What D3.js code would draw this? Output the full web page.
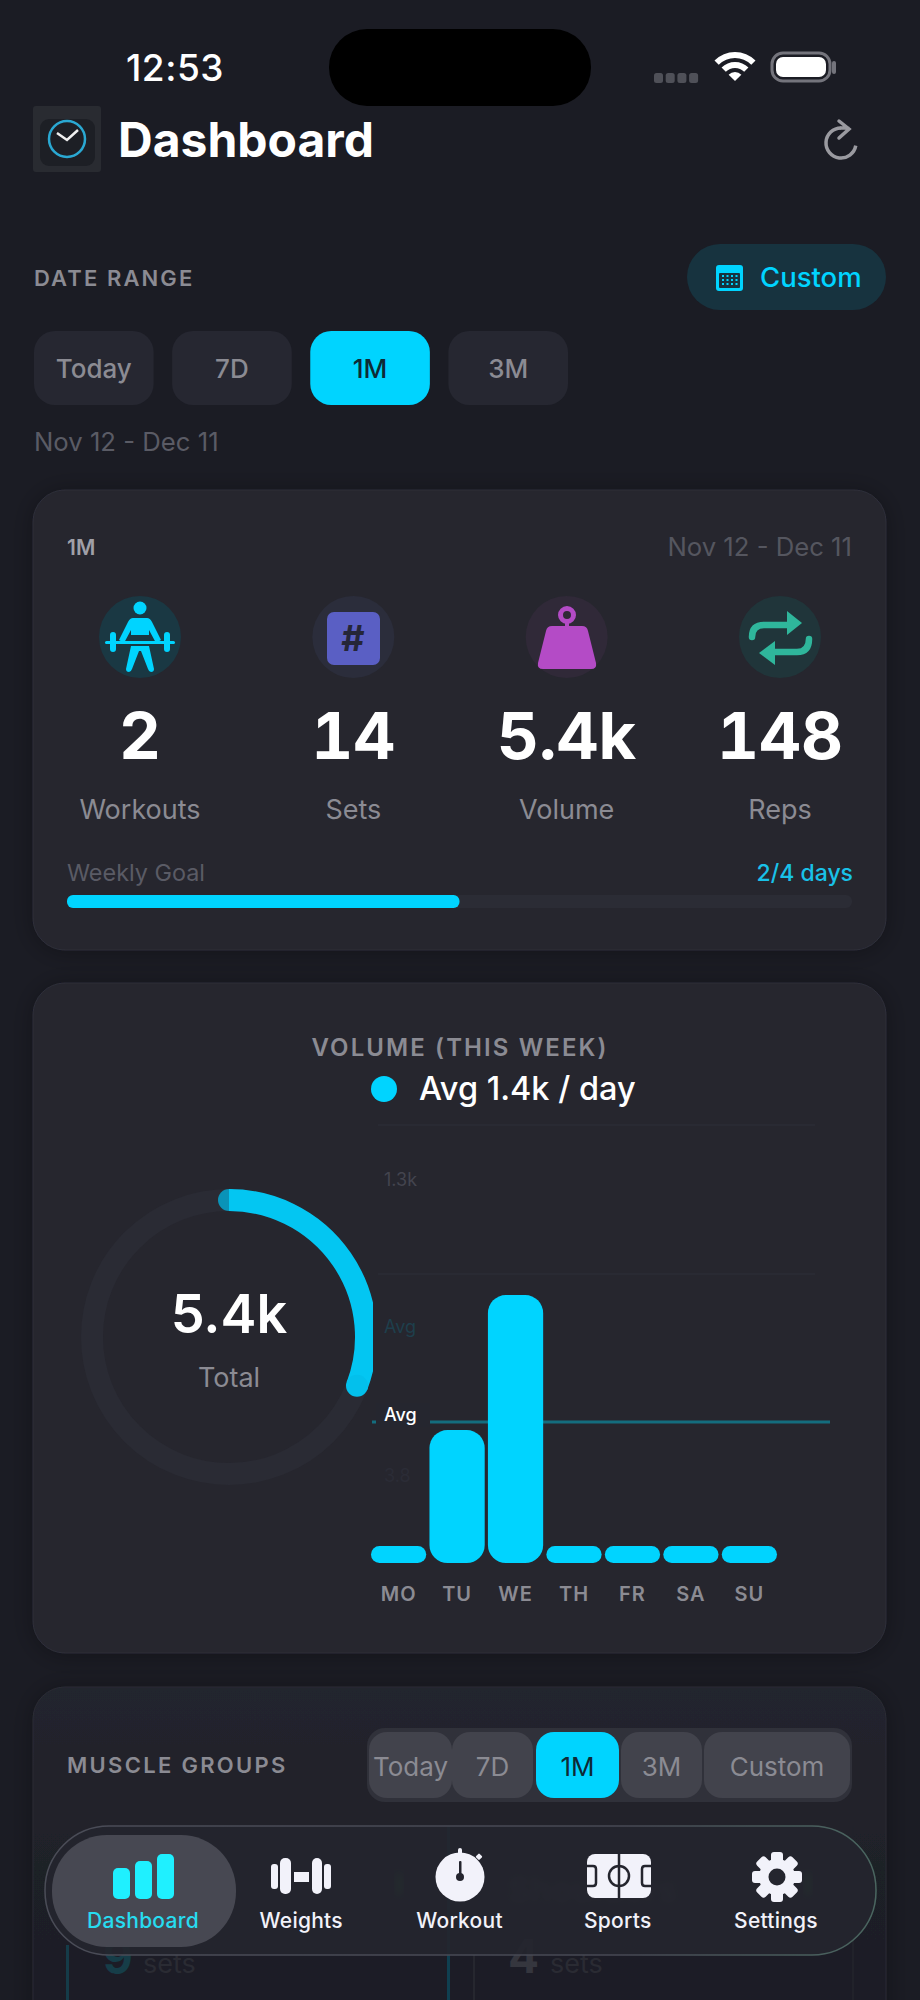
<!DOCTYPE html>
<html>
<head>
<meta charset="utf-8">
<script src="https://d3js.org/d3.v7.min.js"></script>
<style>
  html, body { margin: 0; padding: 0; background: #1b1c24; }
  svg { display: block; }
  text { font-family: Inter, "Noto Sans", sans-serif; }
</style>
</head>
<body>
<script>
// chart data
var days = ["MO", "TU", "WE", "TH", "FR", "SA", "SU"];
var dayVolume = [0, 1320, 2660, 0, 0, 0, 0];
var avgVolume = 1400;
var gridValues = [2870, 4350];
var yTickValues = [3810, 2350, 870];
var yTickLabels = ["1.3k", "Avg", "3.8"];
var ringShare = 0.308;
var weeklyGoalDone = 2;
var weeklyGoalTotal = 4;

// card contents
var rangeButtons = ["Today", "7D", "1M", "3M"];
var muscleButtons = ["Today", "7D", "1M", "3M", "Custom"];
var statValues = ["2", "14", "5.4k", "148"];
var statLabels = ["Workouts", "Sets", "Volume", "Reps"];
var navLabels = ["Dashboard", "Weights", "Workout", "Sports", "Settings"];

var CYAN = "#00d4ff", CARD = "#25262f", GREY = "#8b8b93", DIM = "#5a5b65", ICON = "#f2f2fa";

var svg = d3.select("body").append("svg").attr("width", 920).attr("height", 2000);
var defs = svg.append("defs");

var shadow = defs.append("filter").attr("id", "shadow")
  .attr("x", "-10%").attr("y", "-10%").attr("width", "120%").attr("height", "120%");
shadow.append("feDropShadow").attr("dx", 0).attr("dy", 2).attr("stdDeviation", 12)
  .attr("flood-color", "#000").attr("flood-opacity", 0.3);
defs.append("filter").attr("id", "blur3").append("feGaussianBlur").attr("stdDeviation", 3);

var fade = defs.append("linearGradient").attr("id", "card3").attr("x1", 0).attr("x2", 0).attr("y1", 0).attr("y2", 1);
fade.append("stop").attr("offset", "0%").attr("stop-color", "#24252e");
fade.append("stop").attr("offset", "45%").attr("stop-color", "#1f2028");
fade.append("stop").attr("offset", "100%").attr("stop-color", "#1c1d25");

var navEdge = defs.append("linearGradient").attr("id", "navEdge").attr("x1", 0).attr("x2", 1).attr("y1", 0).attr("y2", 0);
navEdge.append("stop").attr("offset", "0%").attr("stop-color", "#4a4c57");
navEdge.append("stop").attr("offset", "70%").attr("stop-color", "#464853");
navEdge.append("stop").attr("offset", "100%").attr("stop-color", "#4a6660");

defs.append("clipPath").attr("id", "ringClip").append("rect")
  .attr("x", 40).attr("y", 1170).attr("width", 333).attr("height", 340);

function label(parent, x, y, str, size, color, weight, anchor, spacing) {
  return parent.append("text")
    .attr("x", x).attr("y", y)
    .attr("font-size", size)
    .attr("font-weight", weight || 400)
    .attr("fill", color)
    .attr("text-anchor", anchor || "start")
    .attr("letter-spacing", spacing || 0)
    .text(str);
}

function box(parent, x, y, w, h, r, color) {
  return parent.append("rect")
    .attr("x", x).attr("y", y).attr("width", w).attr("height", h)
    .attr("rx", r).attr("fill", color);
}

// status bar
label(svg, 126, 81, "12:53", 37, "#fff", 500, "start", 0.5);
box(svg, 329, 29, 262, 77, 38, "#000");
d3.range(4).forEach(function(i) {
  box(svg, 654 + i * 11.7, 73, 9, 10, 2.5, "#4f5058");
});
var wifi = svg.append("g").attr("transform", "translate(735,81)").attr("fill", "#fff");
[[23, 29], [13, 19], [0, 9]].forEach(function(r) {
  wifi.append("path").attr("d", d3.arc()({
    innerRadius: r[0], outerRadius: r[1], startAngle: -Math.PI / 4, endAngle: Math.PI / 4
  }));
});
box(svg, 772, 53, 58, 28, 11, "none").attr("stroke", "#74747c").attr("stroke-width", 3);
box(svg, 776, 57, 50, 20, 7, "#fff");
box(svg, 832, 61, 4, 13, 2, "#74747c");

// header
box(svg, 33, 106, 68, 66, 3, "#292b31");
box(svg, 40, 119, 55, 47, 9, "#1d1f25");
svg.append("circle").attr("cx", 67).attr("cy", 139).attr("r", 18)
  .attr("fill", "none").attr("stroke", "#2aa8d2").attr("stroke-width", 2.5);
svg.append("path").attr("d", "M57 133L67 140L78 130")
  .attr("fill", "none").attr("stroke", "#f0f0f0").attr("stroke-width", 2.5);
label(svg, 118, 157, "Dashboard", 48, "#fff", 700);

var refresh = svg.append("g").attr("transform", "translate(841,143)")
  .attr("fill", "none").attr("stroke", "#9a9aa0").attr("stroke-width", 3.5).attr("stroke-linecap", "round");
refresh.append("path").attr("d", d3.arc()({
  innerRadius: 15, outerRadius: 15, startAngle: 1.75, endAngle: 2 * Math.PI
}));
refresh.append("path").attr("d", "M0 -15H7M-2 -22L8 -14L-2 -5");

// date range row
label(svg, 34, 286, "DATE RANGE", 22, GREY, 600, "start", 2.1);
box(svg, 687, 244, 199, 66, 33, "#17333f");
box(svg, 716, 265, 27, 26, 3, CYAN);
box(svg, 719, 273, 21, 15, 1, "#17333f");
d3.range(12).forEach(function(i) {
  box(svg, 722 + (i % 4) * 4.5, 275 + Math.floor(i / 4) * 4, 2, 2, 0, CYAN);
});
label(svg, 760, 287, "Custom", 27.5, CYAN, 500);

var rangeX = d3.scaleBand().domain(rangeButtons).range([34, 568]).paddingInner(0.134);
rangeButtons.forEach(function(d) {
  var on = d === "1M";
  box(svg, rangeX(d), 331, rangeX.bandwidth(), 74, 21, on ? CYAN : "#262731");
  label(svg, rangeX(d) + rangeX.bandwidth() / 2, 378, d, 26, on ? "#0e2a35" : GREY, 500, "middle");
});
label(svg, 34, 451, "Nov 12 - Dec 11", 25.7, DIM);

// summary card
box(svg, 33, 490, 853, 460, 32, CARD).attr("stroke", "#2e2f39").attr("filter", "url(#shadow)");
label(svg, 67, 555, "1M", 21, "#a0a0a8", 600);
label(svg, 852, 556, "Nov 12 - Dec 11", 25.7, "#55565f", 400, "end");

var statX = d3.scalePoint().domain(statLabels).range([140, 780]);
var iconFill = ["#1a3843", "#2b2d3b", "#302938", "#20353a"];
statLabels.forEach(function(d, i) {
  svg.append("circle").attr("cx", statX(d)).attr("cy", 637).attr("r", 41).attr("fill", iconFill[i]);
  label(svg, statX(d), 759, statValues[i], 65, "#fff", 700, "middle")
    .style("font-feature-settings", "'tnum'");
  label(svg, statX(d), 819, d, 27, GREY, 400, "middle");
});

// lifter
var lifter = svg.append("g").attr("fill", CYAN);
lifter.append("circle").attr("cx", 140).attr("cy", 608).attr("r", 6.5);
lifter.append("path").attr("d", "M133 618H147Q150 618 152 622L161 640L156 643L149 630V635H131V630L124 643L119 640L128 622Q130 618 133 618Z");
lifter.append("path").attr("d", "M131 646H149L154 669Q154 672 151 672Q149 672 148 669L141 651H139L132 669Q131 672 129 672Q126 672 126 669Z");
box(lifter, 105, 641, 70, 3, 1.5, CYAN);
box(lifter, 110, 632, 6, 20, 3, CYAN);
box(lifter, 164, 632, 6, 20, 3, CYAN);

// sets tile
box(svg, 327, 612, 53, 53, 7, "#5a5fc4");
label(svg, 353, 651, "#", 36, "#252638", 700, "middle");

// kettlebell
svg.append("circle").attr("cx", 567).attr("cy", 615).attr("r", 6.5)
  .attr("fill", "none").attr("stroke", "#b44bc6").attr("stroke-width", 5);
svg.append("path").attr("fill", "#b44bc6")
  .attr("d", "M565 620H569V626H582Q587 626 588 631L596 663Q597 669 591 669H543Q537 669 538 663L546 631Q547 626 552 626H565Z");

// repeat arrows
var repeat = svg.append("g").attr("fill", "#2fb69b");
repeat.append("path").attr("fill", "none").attr("stroke", "#2fb69b").attr("stroke-width", 6.5).attr("stroke-linecap", "round")
  .attr("d", "M752 637Q752 625 764 625H790M809 639Q809 652 797 652H772");
repeat.append("path").attr("d", "M787 611L802 623L787 635Z");
repeat.append("path").attr("d", "M775 641L759 653L775 665Z");

// weekly goal
label(svg, 67, 881, "Weekly Goal", 23.4, DIM);
label(svg, 853, 881, weeklyGoalDone + "/" + weeklyGoalTotal + " days", 23, "#19c1e8", 500, "end");
var goalX = d3.scaleLinear().domain([0, weeklyGoalTotal]).range([0, 785]);
box(svg, 67, 895, goalX(weeklyGoalTotal), 13, 6, "#2b2c35");
box(svg, 67, 895, goalX(weeklyGoalDone), 13, 6, CYAN);

// volume card
box(svg, 33, 983, 853, 670, 32, CARD).attr("stroke", "#2e2f39").attr("filter", "url(#shadow)");
label(svg, 460, 1056, "VOLUME (THIS WEEK)", 24, GREY, 600, "middle", 2.1);
svg.append("circle").attr("cx", 384).attr("cy", 1089).attr("r", 13).attr("fill", CYAN);
label(svg, 419, 1100, "Avg 1.4k / day", 32.5, "#fff", 500);

// ring
var ringCx = 229, ringCy = 1337, ringR = 137;
var ring = svg.append("g").attr("clip-path", "url(#ringClip)")
  .append("g").attr("transform", "translate(" + ringCx + "," + ringCy + ")");
ring.append("circle").attr("r", ringR).attr("fill", "none").attr("stroke", "#2a2b34").attr("stroke-width", 22);
var ringEnd = ringShare * 2 * Math.PI;
ring.append("circle").attr("cx", 0).attr("cy", -ringR).attr("r", 11).attr("fill", "#0a93b8");
ring.append("path")
  .attr("d", d3.arc()({ innerRadius: ringR, outerRadius: ringR, startAngle: 0, endAngle: ringEnd }))
  .attr("fill", "none").attr("stroke", "#03c6f2").attr("stroke-width", 22);
ring.append("circle")
  .attr("cx", ringR * Math.sin(ringEnd)).attr("cy", -ringR * Math.cos(ringEnd))
  .attr("r", 11).attr("fill", "#03c0ec");
label(svg, 229, 1333, "5.4k", 54, "#fff", 600, "middle");
label(svg, 229, 1387, "Total", 27, GREY, 400, "middle");

// bars
var x = d3.scaleBand().domain(days).range([371, 777]).paddingInner(0.055);
var y = d3.scaleLinear().domain([0, avgVolume]).range([1563, 1422]);
var minBarHeight = 17;

svg.append("g").selectAll("line").data(gridValues).join("line")
  .attr("x1", 378).attr("x2", 815)
  .attr("y1", function(d) { return y(d); }).attr("y2", function(d) { return y(d); })
  .attr("stroke", "#2b2c36").attr("stroke-width", 1.5);

var yAxis = svg.append("g").attr("transform", "translate(384,0)")
  .call(d3.axisRight(y).tickValues(yTickValues).tickSize(0).tickPadding(0)
    .tickFormat(function(d, i) { return yTickLabels[i]; }));
yAxis.select(".domain").remove();
yAxis.selectAll("text")
  .attr("font-family", "Inter")
  .attr("font-size", 18)
  .attr("fill", function(d, i) { return ["#43444e", "#1e3f4c", "#2b2c36"][i]; });

svg.append("line")
  .attr("x1", 372).attr("x2", 830).attr("y1", y(avgVolume)).attr("y2", y(avgVolume))
  .attr("stroke", "#146d7e").attr("stroke-width", 3);
box(svg, 376, 1403, 54, 24, 0, CARD);
label(svg, 384, 1421, "Avg", 18, "#fff", 500);

svg.append("g").selectAll("rect").data(days).join("rect")
  .attr("x", function(d) { return x(d); })
  .attr("width", x.bandwidth())
  .attr("y", function(d, i) { return Math.min(y(dayVolume[i]), y(0) - minBarHeight); })
  .attr("height", function(d, i) { return Math.max(y(0) - y(dayVolume[i]), minBarHeight); })
  .attr("rx", function(d, i) { return dayVolume[i] > 0 ? 18 : 8.5; })
  .attr("fill", CYAN);

var xAxis = svg.append("g").attr("transform", "translate(0,1587)")
  .call(d3.axisBottom(x).tickSize(0).tickPadding(0));
xAxis.select(".domain").remove();
xAxis.selectAll("text")
  .attr("font-family", "Inter")
  .attr("font-size", 20)
  .attr("font-weight", 600)
  .attr("letter-spacing", 1)
  .attr("fill", GREY);

// muscle groups card, runs under the nav bar and off the page
box(svg, 33, 1687, 853, 400, 32, "url(#card3)").attr("stroke", "#2a2b34").attr("filter", "url(#shadow)");
label(svg, 67, 1773, "MUSCLE GROUPS", 22, GREY, 600, "start", 2.3);
box(svg, 367, 1728, 485, 74, 18, "#30313a");
var muscleX = [369, 452, 536, 621, 704], muscleW = [83, 81, 83, 81, 146];
muscleButtons.forEach(function(d, i) {
  var on = d === "1M";
  box(svg, muscleX[i], 1732, muscleW[i], 66, 18, on ? CYAN : "#42434c");
  label(svg, muscleX[i] + muscleW[i] / 2, 1776, d, 26, on ? "#0e2a35" : GREY, 400, "middle");
});

// what shows behind the nav bar
box(svg, 66, 1945, 3, 60, 0, "#153c49");
box(svg, 447, 1826, 3, 175, 0, "#0f3f50");
box(svg, 473, 1955, 2, 45, 0, "#26272f");
box(svg, 852, 1826, 2, 175, 0, "#21222a");
label(svg, 103, 1974, "9", 46, "#163d48", 700);
label(svg, 143, 1973, "sets", 27, "#2a2b33");
label(svg, 508, 1973, "4", 46, "#35363e", 700);
label(svg, 550, 1973, "sets", 27, "#2a2b33");
label(svg, 508, 1902, "Shoulders", 34, "#3a3b44", 700).attr("filter", "url(#blur3)");
svg.append("ellipse").attr("cx", 399).attr("cy", 1884).attr("rx", 4).attr("ry", 12).attr("fill", "#1c6b33").attr("filter", "url(#blur3)");
svg.append("ellipse").attr("cx", 808).attr("cy", 1884).attr("rx", 4).attr("ry", 12).attr("fill", "#1c6b33").attr("filter", "url(#blur3)");

// nav bar
box(svg, 45, 1826, 831, 129, 64, "#24252e").attr("opacity", 0.92);
box(svg, 45, 1826, 831, 129, 64, "none").attr("stroke", "url(#navEdge)").attr("stroke-width", 1.5);
box(svg, 52, 1835, 184, 112, 55, "#474852");

var navX = d3.scalePoint().domain(navLabels).range([143, 776]);
navLabels.forEach(function(d, i) {
  label(svg, navX(d), 1928, d, 21, i === 0 ? "#27dcf0" : ICON, 500, "middle", 0.25);
});

// dashboard icon
[[113, 1868], [135, 1861], [157, 1854]].forEach(function(b) {
  box(svg, b[0], b[1], 17, 1899 - b[1], 5, "#1ff0ff");
});

// weights icon
box(svg, 271, 1864, 7, 25, 3, ICON);
box(svg, 280, 1858, 11, 36, 5, ICON);
box(svg, 294, 1872, 15, 10, 0, ICON);
box(svg, 312, 1858, 10, 36, 5, ICON);
box(svg, 324, 1864, 7, 25, 3, ICON);

// workout icon
svg.append("circle").attr("cx", 460).attr("cy", 1877).attr("r", 24.5).attr("fill", ICON);
box(svg, 458, 1848, 4, 8, 2, ICON);
box(svg, 477, 1854, 5, 5, 1, ICON).attr("transform", "rotate(45 479 1856)");
box(svg, 459, 1861, 2.5, 16, 1, "#24252e");
svg.append("circle").attr("cx", 460).attr("cy", 1877).attr("r", 4).attr("fill", "#24252e");

// sports icon
box(svg, 587, 1854, 64, 44, 8, ICON);
var field = svg.append("g").attr("fill", "none").attr("stroke", "#24252e").attr("stroke-width", 2.5);
field.append("path").attr("d", "M619 1854V1898M587 1866H593Q596 1866 596 1869V1883Q596 1886 593 1886H587M651 1866H645Q642 1866 642 1869V1883Q642 1886 645 1886H651");
field.append("circle").attr("cx", 619).attr("cy", 1876).attr("r", 10);

// settings icon
var gear = svg.append("g").attr("transform", "translate(777,1877)");
gear.selectAll("rect").data(d3.range(8)).join("rect")
  .attr("x", -6).attr("y", -25).attr("width", 12).attr("height", 12).attr("rx", 3)
  .attr("fill", ICON)
  .attr("transform", function(d) { return "rotate(" + d * 45 + ")"; });
gear.append("circle").attr("r", 18).attr("fill", ICON);
gear.append("circle").attr("r", 8.5).attr("fill", "#24252e");
</script>
</body>
</html>
